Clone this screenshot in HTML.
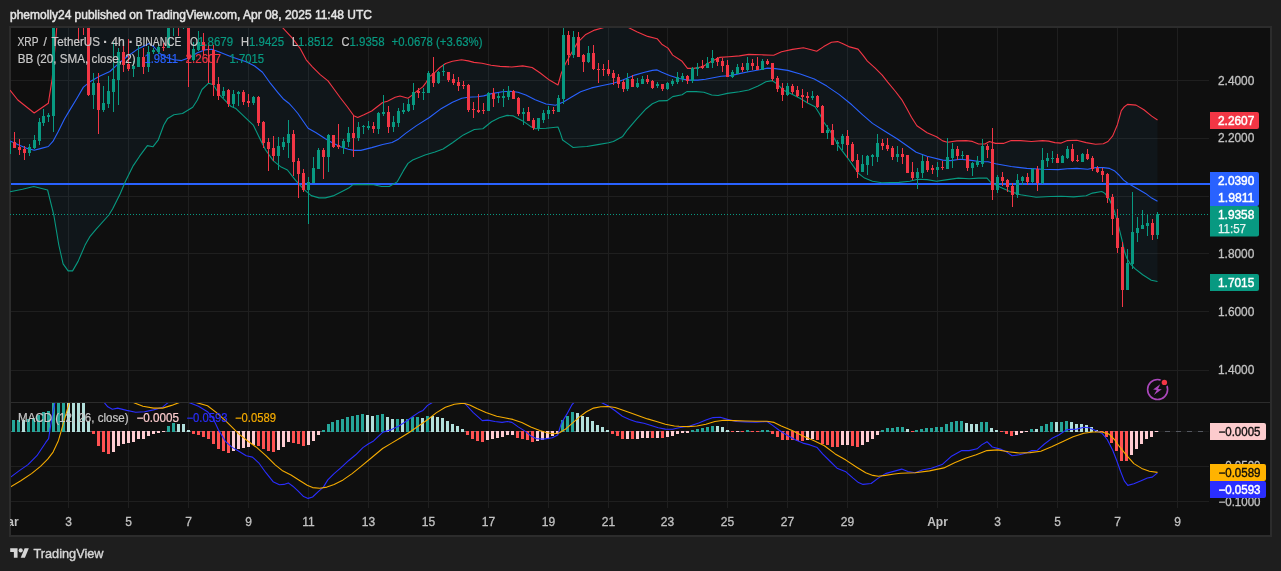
<!DOCTYPE html>
<html lang="en"><head><meta charset="utf-8"><title>XRP / TetherUS chart</title>
<style>html,body{margin:0;padding:0;background:#1e1e1e}body{width:1281px;height:571px;overflow:hidden}svg{display:block;will-change:transform}text{font-family:"Liberation Sans",sans-serif;font-size:12px}.ax{fill:#c2c2c2;stroke:#c2c2c2;stroke-width:.3px}.bx{stroke-width:.45px}.lg{stroke-width:.2px}.tb{fill:#c2c2c2;font-weight:bold}</style>
</head><body>
<svg width="1281" height="571" viewBox="0 0 1281 571">
<defs>
<clipPath id="cm"><rect x="10" y="28" width="1200" height="374"/></clipPath>
<clipPath id="cd"><rect x="11" y="403" width="1198.5" height="104.5"/></clipPath>
</defs>
<rect width="1281" height="571" fill="#1e1e1e"/>
<rect x="10" y="27" width="1261" height="509" fill="#0f0f0f" stroke="#2c2c2c" stroke-width="2"/>
<g stroke="#1f1f1f" stroke-width="1" shape-rendering="crispEdges">
<line x1="68.5" y1="28" x2="68.5" y2="507.5"/>
<line x1="128.5" y1="28" x2="128.5" y2="507.5"/>
<line x1="188.5" y1="28" x2="188.5" y2="507.5"/>
<line x1="248.5" y1="28" x2="248.5" y2="507.5"/>
<line x1="308.5" y1="28" x2="308.5" y2="507.5"/>
<line x1="368.5" y1="28" x2="368.5" y2="507.5"/>
<line x1="428.5" y1="28" x2="428.5" y2="507.5"/>
<line x1="488.5" y1="28" x2="488.5" y2="507.5"/>
<line x1="548.5" y1="28" x2="548.5" y2="507.5"/>
<line x1="608.5" y1="28" x2="608.5" y2="507.5"/>
<line x1="667.5" y1="28" x2="667.5" y2="507.5"/>
<line x1="727.5" y1="28" x2="727.5" y2="507.5"/>
<line x1="787.5" y1="28" x2="787.5" y2="507.5"/>
<line x1="847.5" y1="28" x2="847.5" y2="507.5"/>
<line x1="937.5" y1="28" x2="937.5" y2="507.5"/>
<line x1="997.5" y1="28" x2="997.5" y2="507.5"/>
<line x1="1057.5" y1="28" x2="1057.5" y2="507.5"/>
<line x1="1117.5" y1="28" x2="1117.5" y2="507.5"/>
<line x1="1177.5" y1="28" x2="1177.5" y2="507.5"/>
<line x1="11" y1="80.5" x2="1209" y2="80.5"/>
<line x1="11" y1="138.5" x2="1209" y2="138.5"/>
<line x1="11" y1="196.5" x2="1209" y2="196.5"/>
<line x1="11" y1="253.5" x2="1209" y2="253.5"/>
<line x1="11" y1="311.5" x2="1209" y2="311.5"/>
<line x1="11" y1="370.5" x2="1209" y2="370.5"/>
<line x1="11" y1="466.5" x2="1209" y2="466.5"/>
<line x1="11" y1="501.5" x2="1209" y2="501.5"/>
</g>
<g clip-path="url(#cm)">
<polygon points="10.0,90.2 17.8,100.0 34.2,113.0 48.3,103.3 52.2,78.5 56.8,27.0 60.0,-20.0 278.0,-20.0 282.0,27.0 292.1,37.9 299.9,48.1 306.2,59.8 312.4,66.8 320.2,74.6 328.0,80.9 334.3,89.5 340.5,98.0 347.5,107.0 353.8,115.8 357.7,117.5 363.9,114.8 371.7,111.0 382.7,102.5 387.4,101.2 395.2,97.3 400.0,96.0 408.0,98.3 412.5,94.9 417.1,90.9 422.8,86.9 426.2,82.3 429.6,76.6 435.3,72.1 439.9,67.5 445.6,63.5 452.4,61.3 461.5,59.8 468.3,60.9 474.0,62.4 482.0,63.2 491.1,65.3 500.0,66.4 511.8,67.0 522.7,65.9 532.1,67.5 539.9,72.8 549.4,80.1 558.0,85.0 561.1,73.8 565.8,62.9 571.2,53.5 577.5,42.6 585.3,34.8 594.6,30.1 605.6,27.0 616.0,24.0 627.4,27.0 636.8,31.7 647.7,36.4 657.1,38.7 661.8,44.2 668.0,48.1 672.7,55.1 682.1,61.3 687.5,68.4 693.8,68.4 702.4,66.8 710.2,62.1 719.5,57.4 728.9,56.7 739.4,55.9 748.7,54.4 761.2,54.8 773.7,55.3 781.5,51.7 792.5,49.4 803.4,47.8 811.2,49.7 816.7,51.2 823.7,46.6 831.5,42.3 837.7,41.6 842.4,43.4 848.7,46.6 858.0,49.1 862.7,54.8 867.4,61.1 875.2,68.1 882.2,75.1 887.7,82.2 895.5,91.5 901.7,99.6 906.8,108.6 911.5,117.2 916.9,125.8 927.1,132.8 936.5,136.7 942.7,140.9 947.4,142.2 956.8,140.9 966.1,140.6 972.4,141.4 978.6,144.0 984.9,144.0 989.4,141.5 995.6,143.4 1003.4,143.4 1011.2,140.6 1020.6,140.6 1031.5,141.5 1042.5,140.6 1048.7,141.1 1054.9,142.6 1061.2,143.1 1067.4,140.6 1076.8,140.3 1086.2,142.6 1095.5,144.2 1103.3,143.7 1108.0,141.5 1112.7,135.9 1117.4,124.7 1121.3,110.6 1124.4,106.7 1127.5,104.4 1136.1,105.1 1143.9,109.8 1151.7,116.1 1157.5,120.0 1157.5,281.5 1151.3,280.3 1142.7,274.8 1134.9,268.6 1130.3,263.9 1126.8,258.2 1124.4,251.2 1122.1,240.3 1119.0,227.8 1114.3,210.6 1109.6,199.7 1104.9,193.4 1101.8,191.5 1092.4,193.1 1086.2,195.8 1073.7,196.9 1061.2,196.2 1050.3,196.5 1036.2,197.3 1020.6,194.7 1011.2,191.9 1000.3,187.2 990.9,182.5 987.0,178.1 978.6,178.1 969.3,178.8 958.3,178.1 945.8,179.9 936.5,181.2 927.1,179.6 917.7,179.3 909.9,181.2 899.0,182.4 881.8,182.7 872.5,181.2 864.6,178.1 858.4,173.4 847.5,157.8 838.1,145.3 830.3,131.2 823.7,122.0 819.8,114.2 815.1,106.8 808.1,103.2 800.3,98.5 792.5,94.6 783.1,90.0 776.8,83.7 772.2,80.6 765.9,81.8 758.1,86.1 748.7,90.0 739.4,91.8 727.4,93.4 718.0,95.5 711.7,95.0 703.9,92.3 696.1,91.6 686.8,91.6 682.1,94.7 672.7,96.6 667.2,100.6 658.7,100.9 652.4,103.7 646.2,108.7 636.8,118.9 627.4,129.8 622.7,136.4 613.4,141.5 608.7,142.8 597.8,144.6 586.8,146.5 579.0,147.0 573.1,147.5 568.1,143.9 562.6,140.0 560.3,132.9 558.0,127.0 546.1,128.3 535.2,128.7 530.5,126.4 522.7,120.9 513.3,115.9 507.1,115.4 499.3,117.8 491.5,121.7 482.9,128.7 474.3,129.5 463.4,134.9 452.5,142.7 443.1,149.0 435.0,152.0 425.0,155.0 412.7,160.0 408.0,163.4 403.3,170.9 397.1,181.9 389.3,186.5 381.5,186.5 373.7,184.7 362.0,184.4 352.6,184.8 348.7,188.1 342.5,191.2 333.1,195.9 325.3,197.9 319.0,197.9 311.2,195.6 303.4,188.9 295.6,180.3 287.4,170.0 281.2,167.1 273.4,160.9 265.6,150.0 259.3,137.5 253.5,125.4 235.9,108.6 231.2,106.6 220.3,95.7 213.3,84.8 208.6,83.2 202.0,89.5 197.4,100.0 192.7,107.2 182.5,113.5 173.9,114.8 167.7,118.4 163.8,125.0 158.3,139.8 152.9,146.8 147.4,145.6 139.6,156.2 133.3,165.6 125.5,181.2 120.2,193.8 112.7,208.8 108.9,215.0 96.4,228.8 90.1,236.3 85.1,245.1 78.1,261.4 72.6,270.9 68.1,270.9 63.1,263.9 58.8,245.0 53.8,215.0 47.6,190.0 33.8,186.5 22.5,189.3 10.0,191.8" fill="#2196f3" fill-opacity="0.05"/>
<line x1="10" y1="214.5" x2="1209" y2="214.5" stroke="#089981" stroke-width="1" stroke-dasharray="1 2" shape-rendering="crispEdges"/>
<rect x="11" y="183" width="1199" height="2" fill="#2962ff"/>
<polyline points="10.0,191.8 22.5,189.3 33.8,186.5 47.6,190.0 53.8,215.0 58.8,245.0 63.1,263.9 68.1,270.9 72.6,270.9 78.1,261.4 85.1,245.1 90.1,236.3 96.4,228.8 108.9,215.0 112.7,208.8 120.2,193.8 125.5,181.2 133.3,165.6 139.6,156.2 147.4,145.6 152.9,146.8 158.3,139.8 163.8,125.0 167.7,118.4 173.9,114.8 182.5,113.5 192.7,107.2 197.4,100.0 202.0,89.5 208.6,83.2 213.3,84.8 220.3,95.7 231.2,106.6 235.9,108.6 253.5,125.4 259.3,137.5 265.6,150.0 273.4,160.9 281.2,167.1 287.4,170.0 295.6,180.3 303.4,188.9 311.2,195.6 319.0,197.9 325.3,197.9 333.1,195.9 342.5,191.2 348.7,188.1 352.6,184.8 362.0,184.4 373.7,184.7 381.5,186.5 389.3,186.5 397.1,181.9 403.3,170.9 408.0,163.4 412.7,160.0 425.0,155.0 435.0,152.0 443.1,149.0 452.5,142.7 463.4,134.9 474.3,129.5 482.9,128.7 491.5,121.7 499.3,117.8 507.1,115.4 513.3,115.9 522.7,120.9 530.5,126.4 535.2,128.7 546.1,128.3 558.0,127.0 560.3,132.9 562.6,140.0 568.1,143.9 573.1,147.5 579.0,147.0 586.8,146.5 597.8,144.6 608.7,142.8 613.4,141.5 622.7,136.4 627.4,129.8 636.8,118.9 646.2,108.7 652.4,103.7 658.7,100.9 667.2,100.6 672.7,96.6 682.1,94.7 686.8,91.6 696.1,91.6 703.9,92.3 711.7,95.0 718.0,95.5 727.4,93.4 739.4,91.8 748.7,90.0 758.1,86.1 765.9,81.8 772.2,80.6 776.8,83.7 783.1,90.0 792.5,94.6 800.3,98.5 808.1,103.2 815.1,106.8 819.8,114.2 823.7,122.0 830.3,131.2 838.1,145.3 847.5,157.8 858.4,173.4 864.6,178.1 872.5,181.2 881.8,182.7 899.0,182.4 909.9,181.2 917.7,179.3 927.1,179.6 936.5,181.2 945.8,179.9 958.3,178.1 969.3,178.8 978.6,178.1 987.0,178.1 990.9,182.5 1000.3,187.2 1011.2,191.9 1020.6,194.7 1036.2,197.3 1050.3,196.5 1061.2,196.2 1073.7,196.9 1086.2,195.8 1092.4,193.1 1101.8,191.5 1104.9,193.4 1109.6,199.7 1114.3,210.6 1119.0,227.8 1122.1,240.3 1124.4,251.2 1126.8,258.2 1130.3,263.9 1134.9,268.6 1142.7,274.8 1151.3,280.3 1157.5,281.5" fill="none" stroke="#089981" stroke-width="1.1" stroke-linejoin="round"/>
<polyline points="10.0,90.2 17.8,100.0 34.2,113.0 48.3,103.3 52.2,78.5 56.8,27.0 60.0,-20.0 278.0,-20.0 282.0,27.0 292.1,37.9 299.9,48.1 306.2,59.8 312.4,66.8 320.2,74.6 328.0,80.9 334.3,89.5 340.5,98.0 347.5,107.0 353.8,115.8 357.7,117.5 363.9,114.8 371.7,111.0 382.7,102.5 387.4,101.2 395.2,97.3 400.0,96.0 408.0,98.3 412.5,94.9 417.1,90.9 422.8,86.9 426.2,82.3 429.6,76.6 435.3,72.1 439.9,67.5 445.6,63.5 452.4,61.3 461.5,59.8 468.3,60.9 474.0,62.4 482.0,63.2 491.1,65.3 500.0,66.4 511.8,67.0 522.7,65.9 532.1,67.5 539.9,72.8 549.4,80.1 558.0,85.0 561.1,73.8 565.8,62.9 571.2,53.5 577.5,42.6 585.3,34.8 594.6,30.1 605.6,27.0 616.0,24.0 627.4,27.0 636.8,31.7 647.7,36.4 657.1,38.7 661.8,44.2 668.0,48.1 672.7,55.1 682.1,61.3 687.5,68.4 693.8,68.4 702.4,66.8 710.2,62.1 719.5,57.4 728.9,56.7 739.4,55.9 748.7,54.4 761.2,54.8 773.7,55.3 781.5,51.7 792.5,49.4 803.4,47.8 811.2,49.7 816.7,51.2 823.7,46.6 831.5,42.3 837.7,41.6 842.4,43.4 848.7,46.6 858.0,49.1 862.7,54.8 867.4,61.1 875.2,68.1 882.2,75.1 887.7,82.2 895.5,91.5 901.7,99.6 906.8,108.6 911.5,117.2 916.9,125.8 927.1,132.8 936.5,136.7 942.7,140.9 947.4,142.2 956.8,140.9 966.1,140.6 972.4,141.4 978.6,144.0 984.9,144.0 989.4,141.5 995.6,143.4 1003.4,143.4 1011.2,140.6 1020.6,140.6 1031.5,141.5 1042.5,140.6 1048.7,141.1 1054.9,142.6 1061.2,143.1 1067.4,140.6 1076.8,140.3 1086.2,142.6 1095.5,144.2 1103.3,143.7 1108.0,141.5 1112.7,135.9 1117.4,124.7 1121.3,110.6 1124.4,106.7 1127.5,104.4 1136.1,105.1 1143.9,109.8 1151.7,116.1 1157.5,120.0" fill="none" stroke="#f23645" stroke-width="1.1" stroke-linejoin="round"/>
<polyline points="10.0,140.9 19.4,145.3 27.2,148.4 34.2,150.3 41.2,148.4 48.3,146.5 52.9,141.4 58.4,131.2 64.6,118.7 69.3,110.9 77.1,98.0 83.4,87.1 91.2,80.9 100.0,76.0 109.9,71.5 119.3,62.9 128.0,56.0 138.0,48.9 149.0,43.4 154.0,47.0 159.9,53.5 166.1,57.4 173.9,59.8 181.7,60.6 189.5,57.4 197.4,52.8 206.2,49.6 211.7,49.3 218.7,51.7 231.2,56.7 246.8,62.1 254.6,66.0 262.5,72.3 270.3,83.2 278.1,92.8 283.1,98.7 288.8,103.2 293.7,108.5 297.9,113.5 301.5,118.7 308.1,128.3 316.1,132.8 325.0,138.5 332.7,142.9 340.5,146.8 348.3,149.2 353.8,150.4 360.8,150.4 371.7,147.6 382.7,144.5 392.0,142.5 397.8,139.6 405.6,133.4 416.5,125.6 429.0,117.8 441.5,108.4 452.5,102.2 461.8,98.3 468.1,97.2 477.4,96.7 483.7,95.9 491.5,93.6 502.4,91.7 510.2,91.2 518.0,92.3 525.8,95.1 535.2,99.8 546.1,104.0 555.6,105.3 563.4,102.0 571.2,97.3 580.6,91.8 591.5,87.9 602.5,85.5 613.4,83.2 622.7,80.1 633.7,75.4 644.6,72.3 652.4,70.4 657.1,69.9 661.8,72.3 669.6,75.4 679.0,78.5 688.3,80.1 697.7,80.1 705.5,79.3 713.3,77.7 721.1,76.2 730.5,75.6 739.4,73.6 748.7,71.7 759.7,69.7 767.5,68.1 775.3,68.6 787.8,70.4 800.3,74.0 814.3,79.0 826.8,86.1 839.3,94.6 851.8,104.8 862.7,114.9 872.5,123.4 884.9,131.2 897.4,139.0 908.4,146.8 916.2,152.3 927.1,156.2 942.7,160.1 950.5,160.6 959.9,159.3 969.3,160.1 981.7,161.7 988.0,161.7 995.6,163.7 1011.2,166.5 1026.8,168.4 1042.5,169.2 1058.1,169.6 1067.4,168.7 1076.8,168.4 1087.7,169.2 1095.5,167.6 1103.3,167.6 1109.6,168.4 1114.3,170.7 1119.0,175.0 1123.6,180.1 1127.5,183.0 1136.1,188.0 1145.5,193.4 1151.7,198.1 1157.5,201.2" fill="none" stroke="#2962ff" stroke-width="1.1" stroke-linejoin="round"/>
<g shape-rendering="crispEdges">
<rect x="9" y="138" width="1" height="18" fill="#089981"/>
<rect x="8" y="142" width="3" height="12" fill="#089981"/>
<rect x="14" y="132" width="1" height="16" fill="#f23645"/>
<rect x="13" y="142" width="3" height="6" fill="#f23645"/>
<rect x="19" y="139" width="1" height="16" fill="#f23645"/>
<rect x="18" y="147" width="3" height="3" fill="#f23645"/>
<rect x="24" y="146" width="1" height="14" fill="#f23645"/>
<rect x="23" y="149" width="3" height="4" fill="#f23645"/>
<rect x="29" y="144" width="1" height="12" fill="#089981"/>
<rect x="28" y="147" width="3" height="6" fill="#089981"/>
<rect x="34" y="135" width="1" height="14" fill="#089981"/>
<rect x="33" y="140" width="3" height="8" fill="#089981"/>
<rect x="39" y="118" width="1" height="27" fill="#089981"/>
<rect x="38" y="122" width="3" height="19" fill="#089981"/>
<rect x="43" y="109" width="1" height="17" fill="#089981"/>
<rect x="42" y="116" width="3" height="7" fill="#089981"/>
<rect x="48" y="113" width="1" height="9" fill="#089981"/>
<rect x="47" y="115" width="3" height="2" fill="#089981"/>
<rect x="53" y="10" width="1" height="122" fill="#089981"/>
<rect x="52" y="10" width="3" height="106" fill="#089981"/>
<rect x="78" y="10" width="1" height="32" fill="#f23645"/>
<rect x="77" y="10" width="3" height="2" fill="#f23645"/>
<rect x="83" y="10" width="1" height="25" fill="#f23645"/>
<rect x="82" y="10" width="3" height="2" fill="#f23645"/>
<rect x="88" y="10" width="1" height="86" fill="#f23645"/>
<rect x="87" y="10" width="3" height="85" fill="#f23645"/>
<rect x="93" y="73" width="1" height="36" fill="#089981"/>
<rect x="92" y="83" width="3" height="12" fill="#089981"/>
<rect x="98" y="73" width="1" height="61" fill="#f23645"/>
<rect x="97" y="83" width="3" height="27" fill="#f23645"/>
<rect x="103" y="86" width="1" height="26" fill="#089981"/>
<rect x="102" y="103" width="3" height="7" fill="#089981"/>
<rect x="108" y="76" width="1" height="32" fill="#089981"/>
<rect x="107" y="91" width="3" height="13" fill="#089981"/>
<rect x="113" y="42" width="1" height="70" fill="#089981"/>
<rect x="112" y="79" width="3" height="13" fill="#089981"/>
<rect x="118" y="48" width="1" height="57" fill="#089981"/>
<rect x="117" y="52" width="3" height="28" fill="#089981"/>
<rect x="123" y="46" width="1" height="26" fill="#f23645"/>
<rect x="122" y="52" width="3" height="13" fill="#f23645"/>
<rect x="128" y="39" width="1" height="32" fill="#f23645"/>
<rect x="127" y="64" width="3" height="5" fill="#f23645"/>
<rect x="133" y="61" width="1" height="16" fill="#089981"/>
<rect x="132" y="66" width="3" height="3" fill="#089981"/>
<rect x="138" y="46" width="1" height="21" fill="#089981"/>
<rect x="137" y="57" width="3" height="10" fill="#089981"/>
<rect x="143" y="48" width="1" height="26" fill="#f23645"/>
<rect x="142" y="57" width="3" height="10" fill="#f23645"/>
<rect x="148" y="46" width="1" height="26" fill="#089981"/>
<rect x="147" y="52" width="3" height="15" fill="#089981"/>
<rect x="153" y="48" width="1" height="6" fill="#089981"/>
<rect x="152" y="50" width="3" height="2" fill="#089981"/>
<rect x="158" y="43" width="1" height="11" fill="#089981"/>
<rect x="157" y="47" width="3" height="5" fill="#089981"/>
<rect x="163" y="43" width="1" height="8" fill="#f23645"/>
<rect x="162" y="47" width="3" height="1" fill="#f23645"/>
<rect x="168" y="10" width="1" height="38" fill="#089981"/>
<rect x="167" y="10" width="3" height="38" fill="#089981"/>
<rect x="173" y="10" width="1" height="26" fill="#089981"/>
<rect x="172" y="10" width="3" height="2" fill="#089981"/>
<rect x="178" y="10" width="1" height="26" fill="#f23645"/>
<rect x="177" y="10" width="3" height="2" fill="#f23645"/>
<rect x="183" y="10" width="1" height="19" fill="#089981"/>
<rect x="182" y="10" width="3" height="2" fill="#089981"/>
<rect x="188" y="10" width="1" height="77" fill="#f23645"/>
<rect x="187" y="10" width="3" height="49" fill="#f23645"/>
<rect x="193" y="42" width="1" height="19" fill="#089981"/>
<rect x="192" y="49" width="3" height="11" fill="#089981"/>
<rect x="198" y="31" width="1" height="20" fill="#089981"/>
<rect x="197" y="42" width="3" height="8" fill="#089981"/>
<rect x="203" y="33" width="1" height="22" fill="#f23645"/>
<rect x="202" y="42" width="3" height="8" fill="#f23645"/>
<rect x="208" y="45" width="1" height="38" fill="#f23645"/>
<rect x="207" y="49" width="3" height="1" fill="#f23645"/>
<rect x="213" y="45" width="1" height="51" fill="#f23645"/>
<rect x="212" y="50" width="3" height="35" fill="#f23645"/>
<rect x="218" y="77" width="1" height="23" fill="#f23645"/>
<rect x="217" y="84" width="3" height="12" fill="#f23645"/>
<rect x="223" y="87" width="1" height="11" fill="#089981"/>
<rect x="222" y="91" width="3" height="5" fill="#089981"/>
<rect x="228" y="89" width="1" height="18" fill="#f23645"/>
<rect x="227" y="90" width="3" height="14" fill="#f23645"/>
<rect x="233" y="90" width="1" height="17" fill="#089981"/>
<rect x="232" y="94" width="3" height="10" fill="#089981"/>
<rect x="238" y="91" width="1" height="15" fill="#089981"/>
<rect x="237" y="92" width="3" height="2" fill="#089981"/>
<rect x="243" y="90" width="1" height="15" fill="#f23645"/>
<rect x="242" y="92" width="3" height="10" fill="#f23645"/>
<rect x="248" y="94" width="1" height="13" fill="#f23645"/>
<rect x="247" y="101" width="3" height="2" fill="#f23645"/>
<rect x="253" y="96" width="1" height="9" fill="#089981"/>
<rect x="252" y="97" width="3" height="6" fill="#089981"/>
<rect x="258" y="96" width="1" height="30" fill="#f23645"/>
<rect x="257" y="97" width="3" height="26" fill="#f23645"/>
<rect x="263" y="121" width="1" height="27" fill="#f23645"/>
<rect x="262" y="122" width="3" height="21" fill="#f23645"/>
<rect x="268" y="138" width="1" height="33" fill="#f23645"/>
<rect x="267" y="142" width="3" height="7" fill="#f23645"/>
<rect x="273" y="136" width="1" height="25" fill="#f23645"/>
<rect x="272" y="148" width="3" height="8" fill="#f23645"/>
<rect x="278" y="137" width="1" height="33" fill="#089981"/>
<rect x="277" y="146" width="3" height="10" fill="#089981"/>
<rect x="283" y="137" width="1" height="13" fill="#089981"/>
<rect x="282" y="142" width="3" height="5" fill="#089981"/>
<rect x="288" y="120" width="1" height="38" fill="#089981"/>
<rect x="287" y="134" width="3" height="9" fill="#089981"/>
<rect x="293" y="130" width="1" height="46" fill="#f23645"/>
<rect x="292" y="134" width="3" height="28" fill="#f23645"/>
<rect x="298" y="158" width="1" height="40" fill="#f23645"/>
<rect x="297" y="161" width="3" height="13" fill="#f23645"/>
<rect x="303" y="169" width="1" height="23" fill="#f23645"/>
<rect x="302" y="173" width="3" height="17" fill="#f23645"/>
<rect x="308" y="177" width="1" height="47" fill="#089981"/>
<rect x="307" y="182" width="3" height="8" fill="#089981"/>
<rect x="313" y="157" width="1" height="26" fill="#089981"/>
<rect x="312" y="168" width="3" height="15" fill="#089981"/>
<rect x="318" y="148" width="1" height="21" fill="#089981"/>
<rect x="317" y="150" width="3" height="19" fill="#089981"/>
<rect x="323" y="148" width="1" height="31" fill="#f23645"/>
<rect x="322" y="150" width="3" height="7" fill="#f23645"/>
<rect x="328" y="134" width="1" height="38" fill="#089981"/>
<rect x="327" y="135" width="3" height="22" fill="#089981"/>
<rect x="333" y="135" width="1" height="13" fill="#f23645"/>
<rect x="332" y="135" width="3" height="12" fill="#f23645"/>
<rect x="338" y="124" width="1" height="25" fill="#f23645"/>
<rect x="337" y="145" width="3" height="2" fill="#f23645"/>
<rect x="343" y="139" width="1" height="15" fill="#089981"/>
<rect x="342" y="141" width="3" height="7" fill="#089981"/>
<rect x="348" y="127" width="1" height="20" fill="#089981"/>
<rect x="347" y="133" width="3" height="9" fill="#089981"/>
<rect x="353" y="115" width="1" height="42" fill="#f23645"/>
<rect x="352" y="133" width="3" height="5" fill="#f23645"/>
<rect x="358" y="122" width="1" height="19" fill="#089981"/>
<rect x="357" y="127" width="3" height="11" fill="#089981"/>
<rect x="363" y="125" width="1" height="9" fill="#089981"/>
<rect x="362" y="126" width="3" height="1" fill="#089981"/>
<rect x="368" y="121" width="1" height="9" fill="#089981"/>
<rect x="367" y="126" width="3" height="2" fill="#089981"/>
<rect x="373" y="122" width="1" height="11" fill="#f23645"/>
<rect x="372" y="126" width="3" height="3" fill="#f23645"/>
<rect x="378" y="112" width="1" height="22" fill="#089981"/>
<rect x="377" y="113" width="3" height="16" fill="#089981"/>
<rect x="383" y="95" width="1" height="21" fill="#089981"/>
<rect x="382" y="112" width="3" height="2" fill="#089981"/>
<rect x="388" y="106" width="1" height="27" fill="#f23645"/>
<rect x="387" y="112" width="3" height="15" fill="#f23645"/>
<rect x="393" y="116" width="1" height="16" fill="#089981"/>
<rect x="392" y="122" width="3" height="5" fill="#089981"/>
<rect x="398" y="108" width="1" height="19" fill="#089981"/>
<rect x="397" y="111" width="3" height="12" fill="#089981"/>
<rect x="403" y="103" width="1" height="11" fill="#089981"/>
<rect x="402" y="110" width="3" height="2" fill="#089981"/>
<rect x="408" y="99" width="1" height="13" fill="#089981"/>
<rect x="407" y="104" width="3" height="7" fill="#089981"/>
<rect x="413" y="83" width="1" height="27" fill="#089981"/>
<rect x="412" y="92" width="3" height="13" fill="#089981"/>
<rect x="418" y="88" width="1" height="10" fill="#f23645"/>
<rect x="417" y="91" width="3" height="2" fill="#f23645"/>
<rect x="423" y="88" width="1" height="12" fill="#089981"/>
<rect x="422" y="92" width="3" height="1" fill="#089981"/>
<rect x="428" y="71" width="1" height="22" fill="#089981"/>
<rect x="427" y="73" width="3" height="20" fill="#089981"/>
<rect x="433" y="57" width="1" height="30" fill="#f23645"/>
<rect x="432" y="73" width="3" height="10" fill="#f23645"/>
<rect x="438" y="71" width="1" height="13" fill="#089981"/>
<rect x="437" y="72" width="3" height="11" fill="#089981"/>
<rect x="443" y="64" width="1" height="12" fill="#089981"/>
<rect x="442" y="71" width="3" height="1" fill="#089981"/>
<rect x="448" y="72" width="1" height="10" fill="#f23645"/>
<rect x="447" y="72" width="3" height="8" fill="#f23645"/>
<rect x="453" y="74" width="1" height="11" fill="#f23645"/>
<rect x="452" y="79" width="3" height="4" fill="#f23645"/>
<rect x="458" y="77" width="1" height="14" fill="#f23645"/>
<rect x="457" y="82" width="3" height="4" fill="#f23645"/>
<rect x="463" y="81" width="1" height="8" fill="#f23645"/>
<rect x="462" y="85" width="3" height="1" fill="#f23645"/>
<rect x="468" y="84" width="1" height="28" fill="#f23645"/>
<rect x="467" y="85" width="3" height="25" fill="#f23645"/>
<rect x="473" y="102" width="1" height="16" fill="#f23645"/>
<rect x="472" y="109" width="3" height="1" fill="#f23645"/>
<rect x="478" y="94" width="1" height="19" fill="#f23645"/>
<rect x="477" y="110" width="3" height="2" fill="#f23645"/>
<rect x="483" y="103" width="1" height="11" fill="#f23645"/>
<rect x="482" y="110" width="3" height="1" fill="#f23645"/>
<rect x="488" y="92" width="1" height="19" fill="#089981"/>
<rect x="487" y="93" width="3" height="18" fill="#089981"/>
<rect x="493" y="88" width="1" height="19" fill="#f23645"/>
<rect x="492" y="93" width="3" height="6" fill="#f23645"/>
<rect x="498" y="93" width="1" height="10" fill="#089981"/>
<rect x="497" y="96" width="3" height="2" fill="#089981"/>
<rect x="503" y="89" width="1" height="18" fill="#089981"/>
<rect x="502" y="96" width="3" height="2" fill="#089981"/>
<rect x="508" y="86" width="1" height="14" fill="#089981"/>
<rect x="507" y="91" width="3" height="6" fill="#089981"/>
<rect x="513" y="90" width="1" height="9" fill="#f23645"/>
<rect x="512" y="91" width="3" height="8" fill="#f23645"/>
<rect x="518" y="97" width="1" height="19" fill="#f23645"/>
<rect x="517" y="98" width="3" height="16" fill="#f23645"/>
<rect x="523" y="108" width="1" height="17" fill="#089981"/>
<rect x="522" y="112" width="3" height="2" fill="#089981"/>
<rect x="528" y="107" width="1" height="14" fill="#f23645"/>
<rect x="527" y="112" width="3" height="9" fill="#f23645"/>
<rect x="533" y="118" width="1" height="12" fill="#f23645"/>
<rect x="532" y="120" width="3" height="8" fill="#f23645"/>
<rect x="538" y="118" width="1" height="13" fill="#089981"/>
<rect x="537" y="118" width="3" height="10" fill="#089981"/>
<rect x="543" y="110" width="1" height="13" fill="#089981"/>
<rect x="542" y="113" width="3" height="7" fill="#089981"/>
<rect x="548" y="106" width="1" height="13" fill="#089981"/>
<rect x="547" y="110" width="3" height="4" fill="#089981"/>
<rect x="553" y="107" width="1" height="7" fill="#f23645"/>
<rect x="552" y="110" width="3" height="1" fill="#f23645"/>
<rect x="558" y="95" width="1" height="17" fill="#089981"/>
<rect x="557" y="98" width="3" height="14" fill="#089981"/>
<rect x="563" y="10" width="1" height="94" fill="#089981"/>
<rect x="562" y="35" width="3" height="64" fill="#089981"/>
<rect x="568" y="31" width="1" height="34" fill="#f23645"/>
<rect x="567" y="35" width="3" height="20" fill="#f23645"/>
<rect x="573" y="31" width="1" height="27" fill="#089981"/>
<rect x="572" y="37" width="3" height="18" fill="#089981"/>
<rect x="578" y="32" width="1" height="25" fill="#f23645"/>
<rect x="577" y="37" width="3" height="20" fill="#f23645"/>
<rect x="583" y="54" width="1" height="18" fill="#f23645"/>
<rect x="582" y="55" width="3" height="7" fill="#f23645"/>
<rect x="588" y="46" width="1" height="17" fill="#089981"/>
<rect x="587" y="53" width="3" height="9" fill="#089981"/>
<rect x="593" y="45" width="1" height="25" fill="#f23645"/>
<rect x="592" y="53" width="3" height="16" fill="#f23645"/>
<rect x="598" y="63" width="1" height="20" fill="#f23645"/>
<rect x="597" y="69" width="3" height="1" fill="#f23645"/>
<rect x="603" y="64" width="1" height="12" fill="#f23645"/>
<rect x="602" y="69" width="3" height="1" fill="#f23645"/>
<rect x="608" y="60" width="1" height="16" fill="#f23645"/>
<rect x="607" y="69" width="3" height="5" fill="#f23645"/>
<rect x="613" y="70" width="1" height="15" fill="#f23645"/>
<rect x="612" y="73" width="3" height="5" fill="#f23645"/>
<rect x="618" y="74" width="1" height="14" fill="#f23645"/>
<rect x="617" y="77" width="3" height="7" fill="#f23645"/>
<rect x="623" y="80" width="1" height="12" fill="#f23645"/>
<rect x="622" y="82" width="3" height="7" fill="#f23645"/>
<rect x="627" y="73" width="1" height="18" fill="#089981"/>
<rect x="626" y="79" width="3" height="10" fill="#089981"/>
<rect x="632" y="75" width="1" height="12" fill="#f23645"/>
<rect x="631" y="79" width="3" height="8" fill="#f23645"/>
<rect x="637" y="78" width="1" height="10" fill="#089981"/>
<rect x="636" y="83" width="3" height="4" fill="#089981"/>
<rect x="642" y="76" width="1" height="8" fill="#089981"/>
<rect x="641" y="79" width="3" height="5" fill="#089981"/>
<rect x="647" y="75" width="1" height="9" fill="#f23645"/>
<rect x="646" y="79" width="3" height="3" fill="#f23645"/>
<rect x="652" y="80" width="1" height="9" fill="#f23645"/>
<rect x="651" y="81" width="3" height="7" fill="#f23645"/>
<rect x="657" y="82" width="1" height="6" fill="#089981"/>
<rect x="656" y="84" width="3" height="2" fill="#089981"/>
<rect x="662" y="84" width="1" height="7" fill="#f23645"/>
<rect x="661" y="84" width="3" height="5" fill="#f23645"/>
<rect x="667" y="82" width="1" height="8" fill="#089981"/>
<rect x="666" y="83" width="3" height="6" fill="#089981"/>
<rect x="672" y="79" width="1" height="7" fill="#089981"/>
<rect x="671" y="81" width="3" height="3" fill="#089981"/>
<rect x="677" y="72" width="1" height="12" fill="#089981"/>
<rect x="676" y="77" width="3" height="5" fill="#089981"/>
<rect x="682" y="73" width="1" height="9" fill="#089981"/>
<rect x="681" y="76" width="3" height="3" fill="#089981"/>
<rect x="687" y="75" width="1" height="9" fill="#f23645"/>
<rect x="686" y="76" width="3" height="5" fill="#f23645"/>
<rect x="692" y="67" width="1" height="16" fill="#089981"/>
<rect x="691" y="68" width="3" height="13" fill="#089981"/>
<rect x="697" y="63" width="1" height="13" fill="#089981"/>
<rect x="696" y="67" width="3" height="2" fill="#089981"/>
<rect x="702" y="60" width="1" height="9" fill="#f23645"/>
<rect x="701" y="66" width="3" height="2" fill="#f23645"/>
<rect x="707" y="57" width="1" height="11" fill="#089981"/>
<rect x="706" y="63" width="3" height="5" fill="#089981"/>
<rect x="712" y="50" width="1" height="18" fill="#089981"/>
<rect x="711" y="58" width="3" height="5" fill="#089981"/>
<rect x="717" y="57" width="1" height="9" fill="#f23645"/>
<rect x="716" y="58" width="3" height="4" fill="#f23645"/>
<rect x="722" y="58" width="1" height="14" fill="#f23645"/>
<rect x="721" y="61" width="3" height="5" fill="#f23645"/>
<rect x="727" y="60" width="1" height="17" fill="#f23645"/>
<rect x="726" y="65" width="3" height="12" fill="#f23645"/>
<rect x="732" y="70" width="1" height="8" fill="#089981"/>
<rect x="731" y="72" width="3" height="5" fill="#089981"/>
<rect x="737" y="64" width="1" height="10" fill="#089981"/>
<rect x="736" y="67" width="3" height="7" fill="#089981"/>
<rect x="742" y="63" width="1" height="9" fill="#f23645"/>
<rect x="741" y="67" width="3" height="3" fill="#f23645"/>
<rect x="747" y="57" width="1" height="15" fill="#089981"/>
<rect x="746" y="63" width="3" height="7" fill="#089981"/>
<rect x="752" y="59" width="1" height="11" fill="#f23645"/>
<rect x="751" y="63" width="3" height="3" fill="#f23645"/>
<rect x="757" y="57" width="1" height="13" fill="#f23645"/>
<rect x="756" y="66" width="3" height="4" fill="#f23645"/>
<rect x="762" y="59" width="1" height="11" fill="#089981"/>
<rect x="761" y="61" width="3" height="9" fill="#089981"/>
<rect x="767" y="59" width="1" height="6" fill="#f23645"/>
<rect x="766" y="61" width="3" height="3" fill="#f23645"/>
<rect x="772" y="63" width="1" height="18" fill="#f23645"/>
<rect x="771" y="63" width="3" height="16" fill="#f23645"/>
<rect x="777" y="76" width="1" height="16" fill="#f23645"/>
<rect x="776" y="78" width="3" height="11" fill="#f23645"/>
<rect x="782" y="83" width="1" height="18" fill="#f23645"/>
<rect x="781" y="88" width="3" height="7" fill="#f23645"/>
<rect x="787" y="83" width="1" height="13" fill="#089981"/>
<rect x="786" y="86" width="3" height="9" fill="#089981"/>
<rect x="792" y="84" width="1" height="10" fill="#f23645"/>
<rect x="791" y="86" width="3" height="6" fill="#f23645"/>
<rect x="797" y="86" width="1" height="11" fill="#f23645"/>
<rect x="796" y="90" width="3" height="6" fill="#f23645"/>
<rect x="802" y="89" width="1" height="19" fill="#f23645"/>
<rect x="801" y="95" width="3" height="2" fill="#f23645"/>
<rect x="807" y="92" width="1" height="11" fill="#f23645"/>
<rect x="806" y="96" width="3" height="2" fill="#f23645"/>
<rect x="812" y="91" width="1" height="9" fill="#089981"/>
<rect x="811" y="96" width="3" height="2" fill="#089981"/>
<rect x="817" y="95" width="1" height="13" fill="#f23645"/>
<rect x="816" y="96" width="3" height="11" fill="#f23645"/>
<rect x="822" y="105" width="1" height="28" fill="#f23645"/>
<rect x="821" y="106" width="3" height="27" fill="#f23645"/>
<rect x="827" y="125" width="1" height="14" fill="#089981"/>
<rect x="826" y="130" width="3" height="3" fill="#089981"/>
<rect x="832" y="124" width="1" height="21" fill="#f23645"/>
<rect x="831" y="130" width="3" height="15" fill="#f23645"/>
<rect x="837" y="140" width="1" height="11" fill="#089981"/>
<rect x="836" y="142" width="3" height="2" fill="#089981"/>
<rect x="842" y="134" width="1" height="16" fill="#089981"/>
<rect x="841" y="136" width="3" height="8" fill="#089981"/>
<rect x="847" y="130" width="1" height="28" fill="#f23645"/>
<rect x="846" y="136" width="3" height="9" fill="#f23645"/>
<rect x="852" y="142" width="1" height="20" fill="#f23645"/>
<rect x="851" y="144" width="3" height="17" fill="#f23645"/>
<rect x="857" y="154" width="1" height="24" fill="#f23645"/>
<rect x="856" y="160" width="3" height="12" fill="#f23645"/>
<rect x="862" y="155" width="1" height="17" fill="#089981"/>
<rect x="861" y="164" width="3" height="8" fill="#089981"/>
<rect x="867" y="155" width="1" height="20" fill="#089981"/>
<rect x="866" y="156" width="3" height="9" fill="#089981"/>
<rect x="872" y="154" width="1" height="12" fill="#089981"/>
<rect x="871" y="155" width="3" height="2" fill="#089981"/>
<rect x="877" y="134" width="1" height="28" fill="#089981"/>
<rect x="876" y="143" width="3" height="14" fill="#089981"/>
<rect x="882" y="139" width="1" height="11" fill="#f23645"/>
<rect x="881" y="143" width="3" height="3" fill="#f23645"/>
<rect x="887" y="138" width="1" height="13" fill="#f23645"/>
<rect x="886" y="145" width="3" height="4" fill="#f23645"/>
<rect x="892" y="146" width="1" height="14" fill="#f23645"/>
<rect x="891" y="148" width="3" height="9" fill="#f23645"/>
<rect x="897" y="146" width="1" height="16" fill="#089981"/>
<rect x="896" y="154" width="3" height="3" fill="#089981"/>
<rect x="902" y="148" width="1" height="16" fill="#f23645"/>
<rect x="901" y="154" width="3" height="3" fill="#f23645"/>
<rect x="907" y="155" width="1" height="18" fill="#f23645"/>
<rect x="906" y="155" width="3" height="18" fill="#f23645"/>
<rect x="912" y="162" width="1" height="18" fill="#f23645"/>
<rect x="911" y="172" width="3" height="6" fill="#f23645"/>
<rect x="917" y="168" width="1" height="21" fill="#089981"/>
<rect x="916" y="172" width="3" height="6" fill="#089981"/>
<rect x="922" y="155" width="1" height="23" fill="#089981"/>
<rect x="921" y="161" width="3" height="12" fill="#089981"/>
<rect x="927" y="157" width="1" height="15" fill="#f23645"/>
<rect x="926" y="161" width="3" height="9" fill="#f23645"/>
<rect x="932" y="165" width="1" height="9" fill="#f23645"/>
<rect x="931" y="168" width="3" height="2" fill="#f23645"/>
<rect x="937" y="162" width="1" height="15" fill="#089981"/>
<rect x="936" y="167" width="3" height="3" fill="#089981"/>
<rect x="942" y="161" width="1" height="9" fill="#f23645"/>
<rect x="941" y="167" width="3" height="1" fill="#f23645"/>
<rect x="947" y="138" width="1" height="31" fill="#089981"/>
<rect x="946" y="157" width="3" height="12" fill="#089981"/>
<rect x="952" y="143" width="1" height="25" fill="#089981"/>
<rect x="951" y="149" width="3" height="9" fill="#089981"/>
<rect x="957" y="146" width="1" height="14" fill="#f23645"/>
<rect x="956" y="149" width="3" height="7" fill="#f23645"/>
<rect x="962" y="151" width="1" height="8" fill="#089981"/>
<rect x="961" y="155" width="3" height="1" fill="#089981"/>
<rect x="967" y="155" width="1" height="16" fill="#f23645"/>
<rect x="966" y="155" width="3" height="13" fill="#f23645"/>
<rect x="972" y="162" width="1" height="14" fill="#089981"/>
<rect x="971" y="163" width="3" height="5" fill="#089981"/>
<rect x="977" y="156" width="1" height="11" fill="#089981"/>
<rect x="976" y="161" width="3" height="4" fill="#089981"/>
<rect x="982" y="139" width="1" height="28" fill="#089981"/>
<rect x="981" y="146" width="3" height="18" fill="#089981"/>
<rect x="987" y="144" width="1" height="14" fill="#f23645"/>
<rect x="986" y="146" width="3" height="4" fill="#f23645"/>
<rect x="992" y="128" width="1" height="72" fill="#f23645"/>
<rect x="991" y="149" width="3" height="41" fill="#f23645"/>
<rect x="997" y="175" width="1" height="18" fill="#089981"/>
<rect x="996" y="177" width="3" height="13" fill="#089981"/>
<rect x="1002" y="172" width="1" height="14" fill="#f23645"/>
<rect x="1001" y="177" width="3" height="4" fill="#f23645"/>
<rect x="1007" y="179" width="1" height="13" fill="#f23645"/>
<rect x="1006" y="180" width="3" height="7" fill="#f23645"/>
<rect x="1012" y="183" width="1" height="24" fill="#f23645"/>
<rect x="1011" y="186" width="3" height="9" fill="#f23645"/>
<rect x="1017" y="174" width="1" height="24" fill="#089981"/>
<rect x="1016" y="180" width="3" height="15" fill="#089981"/>
<rect x="1022" y="176" width="1" height="9" fill="#089981"/>
<rect x="1021" y="177" width="3" height="4" fill="#089981"/>
<rect x="1027" y="173" width="1" height="12" fill="#f23645"/>
<rect x="1026" y="177" width="3" height="5" fill="#f23645"/>
<rect x="1032" y="168" width="1" height="15" fill="#089981"/>
<rect x="1031" y="169" width="3" height="13" fill="#089981"/>
<rect x="1037" y="166" width="1" height="25" fill="#f23645"/>
<rect x="1036" y="169" width="3" height="14" fill="#f23645"/>
<rect x="1042" y="148" width="1" height="36" fill="#089981"/>
<rect x="1041" y="160" width="3" height="23" fill="#089981"/>
<rect x="1047" y="153" width="1" height="14" fill="#089981"/>
<rect x="1046" y="158" width="3" height="3" fill="#089981"/>
<rect x="1052" y="151" width="1" height="12" fill="#089981"/>
<rect x="1051" y="158" width="3" height="1" fill="#089981"/>
<rect x="1057" y="154" width="1" height="9" fill="#f23645"/>
<rect x="1056" y="158" width="3" height="5" fill="#f23645"/>
<rect x="1062" y="155" width="1" height="8" fill="#089981"/>
<rect x="1061" y="156" width="3" height="7" fill="#089981"/>
<rect x="1067" y="146" width="1" height="13" fill="#089981"/>
<rect x="1066" y="149" width="3" height="9" fill="#089981"/>
<rect x="1072" y="144" width="1" height="18" fill="#f23645"/>
<rect x="1071" y="149" width="3" height="12" fill="#f23645"/>
<rect x="1077" y="155" width="1" height="7" fill="#f23645"/>
<rect x="1076" y="160" width="3" height="1" fill="#f23645"/>
<rect x="1082" y="153" width="1" height="9" fill="#089981"/>
<rect x="1081" y="154" width="3" height="8" fill="#089981"/>
<rect x="1087" y="149" width="1" height="11" fill="#f23645"/>
<rect x="1086" y="154" width="3" height="5" fill="#f23645"/>
<rect x="1092" y="156" width="1" height="15" fill="#f23645"/>
<rect x="1091" y="158" width="3" height="11" fill="#f23645"/>
<rect x="1097" y="166" width="1" height="7" fill="#f23645"/>
<rect x="1096" y="168" width="3" height="4" fill="#f23645"/>
<rect x="1102" y="168" width="1" height="14" fill="#f23645"/>
<rect x="1101" y="171" width="3" height="4" fill="#f23645"/>
<rect x="1107" y="173" width="1" height="30" fill="#f23645"/>
<rect x="1106" y="174" width="3" height="24" fill="#f23645"/>
<rect x="1112" y="194" width="1" height="41" fill="#f23645"/>
<rect x="1111" y="197" width="3" height="22" fill="#f23645"/>
<rect x="1117" y="209" width="1" height="44" fill="#f23645"/>
<rect x="1116" y="218" width="3" height="30" fill="#f23645"/>
<rect x="1122" y="242" width="1" height="65" fill="#f23645"/>
<rect x="1121" y="247" width="3" height="43" fill="#f23645"/>
<rect x="1127" y="249" width="1" height="41" fill="#089981"/>
<rect x="1126" y="263" width="3" height="27" fill="#089981"/>
<rect x="1132" y="192" width="1" height="77" fill="#089981"/>
<rect x="1131" y="232" width="3" height="32" fill="#089981"/>
<rect x="1137" y="217" width="1" height="25" fill="#089981"/>
<rect x="1136" y="228" width="3" height="5" fill="#089981"/>
<rect x="1142" y="210" width="1" height="19" fill="#089981"/>
<rect x="1141" y="225" width="3" height="4" fill="#089981"/>
<rect x="1147" y="214" width="1" height="22" fill="#089981"/>
<rect x="1146" y="223" width="3" height="3" fill="#089981"/>
<rect x="1152" y="219" width="1" height="21" fill="#f23645"/>
<rect x="1151" y="223" width="3" height="12" fill="#f23645"/>
<rect x="1157" y="212" width="1" height="27" fill="#089981"/>
<rect x="1156" y="214" width="3" height="21" fill="#089981"/>
</g>
</g>
<rect x="11" y="402" width="1259" height="1" fill="#2c2c2c"/>
<g clip-path="url(#cd)">
<line x1="11" y1="431.5" x2="1209" y2="431.5" stroke="#1b1b1b" stroke-width="1" shape-rendering="crispEdges"/>
<line x1="10" y1="431.5" x2="1209" y2="431.5" stroke="#555860" stroke-width="1" stroke-dasharray="5 6" shape-rendering="crispEdges"/>
<g shape-rendering="crispEdges">
<rect x="12" y="420" width="3" height="12" fill="#26a69a"/>
<rect x="17" y="420" width="3" height="12" fill="#26a69a"/>
<rect x="22" y="420" width="3" height="12" fill="#b2dfdb"/>
<rect x="27" y="419" width="3" height="13" fill="#26a69a"/>
<rect x="32" y="418" width="3" height="14" fill="#26a69a"/>
<rect x="37" y="415" width="3" height="17" fill="#26a69a"/>
<rect x="42" y="412" width="3" height="20" fill="#26a69a"/>
<rect x="47" y="411" width="3" height="21" fill="#26a69a"/>
<rect x="52" y="395" width="3" height="37" fill="#26a69a"/>
<rect x="57" y="395" width="3" height="37" fill="#26a69a"/>
<rect x="62" y="395" width="3" height="37" fill="#26a69a"/>
<rect x="67" y="395" width="3" height="37" fill="#b2dfdb"/>
<rect x="72" y="395" width="3" height="37" fill="#b2dfdb"/>
<rect x="77" y="395" width="3" height="37" fill="#b2dfdb"/>
<rect x="82" y="395" width="3" height="37" fill="#b2dfdb"/>
<rect x="87" y="421" width="3" height="11" fill="#b2dfdb"/>
<rect x="92" y="431" width="3" height="3" fill="#ff5252"/>
<rect x="97" y="431" width="3" height="15" fill="#ff5252"/>
<rect x="102" y="431" width="3" height="21" fill="#ff5252"/>
<rect x="107" y="431" width="3" height="23" fill="#ff5252"/>
<rect x="112" y="431" width="3" height="21" fill="#ffcdd2"/>
<rect x="117" y="431" width="3" height="15" fill="#ffcdd2"/>
<rect x="122" y="431" width="3" height="13" fill="#ffcdd2"/>
<rect x="127" y="431" width="3" height="12" fill="#ffcdd2"/>
<rect x="132" y="431" width="3" height="11" fill="#ffcdd2"/>
<rect x="137" y="431" width="3" height="8" fill="#ffcdd2"/>
<rect x="142" y="431" width="3" height="8" fill="#ffcdd2"/>
<rect x="147" y="431" width="3" height="5" fill="#ffcdd2"/>
<rect x="152" y="431" width="3" height="3" fill="#ffcdd2"/>
<rect x="157" y="431" width="3" height="2" fill="#ffcdd2"/>
<rect x="162" y="431" width="3" height="1" fill="#ffcdd2"/>
<rect x="167" y="426" width="3" height="6" fill="#26a69a"/>
<rect x="172" y="423" width="3" height="9" fill="#26a69a"/>
<rect x="177" y="424" width="3" height="8" fill="#b2dfdb"/>
<rect x="182" y="424" width="3" height="8" fill="#b2dfdb"/>
<rect x="187" y="430" width="3" height="2" fill="#b2dfdb"/>
<rect x="192" y="431" width="3" height="3" fill="#ff5252"/>
<rect x="197" y="431" width="3" height="4" fill="#ff5252"/>
<rect x="202" y="431" width="3" height="6" fill="#ff5252"/>
<rect x="207" y="431" width="3" height="8" fill="#ff5252"/>
<rect x="212" y="431" width="3" height="13" fill="#ff5252"/>
<rect x="217" y="431" width="3" height="18" fill="#ff5252"/>
<rect x="222" y="431" width="3" height="20" fill="#ff5252"/>
<rect x="227" y="431" width="3" height="22" fill="#ff5252"/>
<rect x="232" y="431" width="3" height="20" fill="#ffcdd2"/>
<rect x="237" y="431" width="3" height="18" fill="#ffcdd2"/>
<rect x="242" y="431" width="3" height="17" fill="#ffcdd2"/>
<rect x="247" y="431" width="3" height="16" fill="#ffcdd2"/>
<rect x="252" y="431" width="3" height="14" fill="#ffcdd2"/>
<rect x="257" y="431" width="3" height="15" fill="#ff5252"/>
<rect x="262" y="431" width="3" height="18" fill="#ff5252"/>
<rect x="267" y="431" width="3" height="20" fill="#ff5252"/>
<rect x="272" y="431" width="3" height="21" fill="#ff5252"/>
<rect x="277" y="431" width="3" height="19" fill="#ffcdd2"/>
<rect x="282" y="431" width="3" height="16" fill="#ffcdd2"/>
<rect x="287" y="431" width="3" height="11" fill="#ffcdd2"/>
<rect x="292" y="431" width="3" height="12" fill="#ff5252"/>
<rect x="297" y="431" width="3" height="13" fill="#ff5252"/>
<rect x="302" y="431" width="3" height="15" fill="#ff5252"/>
<rect x="307" y="431" width="3" height="14" fill="#ffcdd2"/>
<rect x="312" y="431" width="3" height="10" fill="#ffcdd2"/>
<rect x="317" y="431" width="3" height="4" fill="#ffcdd2"/>
<rect x="322" y="430" width="3" height="2" fill="#26a69a"/>
<rect x="327" y="424" width="3" height="8" fill="#26a69a"/>
<rect x="331" y="422" width="3" height="10" fill="#26a69a"/>
<rect x="336" y="420" width="3" height="12" fill="#26a69a"/>
<rect x="341" y="419" width="3" height="13" fill="#26a69a"/>
<rect x="346" y="417" width="3" height="15" fill="#26a69a"/>
<rect x="351" y="416" width="3" height="16" fill="#26a69a"/>
<rect x="356" y="415" width="3" height="17" fill="#26a69a"/>
<rect x="361" y="414" width="3" height="18" fill="#26a69a"/>
<rect x="366" y="415" width="3" height="17" fill="#b2dfdb"/>
<rect x="371" y="416" width="3" height="16" fill="#b2dfdb"/>
<rect x="376" y="415" width="3" height="17" fill="#26a69a"/>
<rect x="381" y="414" width="3" height="18" fill="#26a69a"/>
<rect x="386" y="417" width="3" height="15" fill="#b2dfdb"/>
<rect x="391" y="419" width="3" height="13" fill="#b2dfdb"/>
<rect x="396" y="419" width="3" height="13" fill="#26a69a"/>
<rect x="401" y="419" width="3" height="13" fill="#b2dfdb"/>
<rect x="406" y="419" width="3" height="13" fill="#26a69a"/>
<rect x="411" y="417" width="3" height="15" fill="#26a69a"/>
<rect x="416" y="417" width="3" height="15" fill="#26a69a"/>
<rect x="421" y="418" width="3" height="14" fill="#b2dfdb"/>
<rect x="426" y="416" width="3" height="16" fill="#26a69a"/>
<rect x="431" y="416" width="3" height="16" fill="#b2dfdb"/>
<rect x="436" y="417" width="3" height="15" fill="#b2dfdb"/>
<rect x="441" y="418" width="3" height="14" fill="#b2dfdb"/>
<rect x="446" y="421" width="3" height="11" fill="#b2dfdb"/>
<rect x="451" y="424" width="3" height="8" fill="#b2dfdb"/>
<rect x="456" y="426" width="3" height="6" fill="#b2dfdb"/>
<rect x="461" y="429" width="3" height="3" fill="#b2dfdb"/>
<rect x="466" y="431" width="3" height="4" fill="#ff5252"/>
<rect x="471" y="431" width="3" height="8" fill="#ff5252"/>
<rect x="476" y="431" width="3" height="10" fill="#ff5252"/>
<rect x="481" y="431" width="3" height="11" fill="#ff5252"/>
<rect x="486" y="431" width="3" height="9" fill="#ffcdd2"/>
<rect x="491" y="431" width="3" height="8" fill="#ffcdd2"/>
<rect x="496" y="431" width="3" height="7" fill="#ffcdd2"/>
<rect x="501" y="431" width="3" height="6" fill="#ffcdd2"/>
<rect x="506" y="431" width="3" height="4" fill="#ffcdd2"/>
<rect x="511" y="431" width="3" height="4" fill="#ffcdd2"/>
<rect x="516" y="431" width="3" height="7" fill="#ff5252"/>
<rect x="521" y="431" width="3" height="8" fill="#ff5252"/>
<rect x="526" y="431" width="3" height="9" fill="#ff5252"/>
<rect x="531" y="431" width="3" height="11" fill="#ff5252"/>
<rect x="536" y="431" width="3" height="10" fill="#ffcdd2"/>
<rect x="541" y="431" width="3" height="9" fill="#ffcdd2"/>
<rect x="546" y="431" width="3" height="8" fill="#ffcdd2"/>
<rect x="551" y="431" width="3" height="5" fill="#ffcdd2"/>
<rect x="556" y="431" width="3" height="3" fill="#ffcdd2"/>
<rect x="561" y="420" width="3" height="12" fill="#26a69a"/>
<rect x="566" y="416" width="3" height="16" fill="#26a69a"/>
<rect x="571" y="412" width="3" height="20" fill="#26a69a"/>
<rect x="576" y="413" width="3" height="19" fill="#b2dfdb"/>
<rect x="581" y="416" width="3" height="16" fill="#b2dfdb"/>
<rect x="586" y="417" width="3" height="15" fill="#b2dfdb"/>
<rect x="591" y="421" width="3" height="11" fill="#b2dfdb"/>
<rect x="596" y="425" width="3" height="7" fill="#b2dfdb"/>
<rect x="601" y="427" width="3" height="5" fill="#b2dfdb"/>
<rect x="606" y="430" width="3" height="2" fill="#b2dfdb"/>
<rect x="611" y="431" width="3" height="3" fill="#ff5252"/>
<rect x="616" y="431" width="3" height="5" fill="#ff5252"/>
<rect x="621" y="431" width="3" height="8" fill="#ff5252"/>
<rect x="626" y="431" width="3" height="8" fill="#ffcdd2"/>
<rect x="631" y="431" width="3" height="8" fill="#ff5252"/>
<rect x="636" y="431" width="3" height="8" fill="#ffcdd2"/>
<rect x="641" y="431" width="3" height="7" fill="#ffcdd2"/>
<rect x="646" y="431" width="3" height="7" fill="#ffcdd2"/>
<rect x="651" y="431" width="3" height="7" fill="#ff5252"/>
<rect x="656" y="431" width="3" height="7" fill="#ffcdd2"/>
<rect x="661" y="431" width="3" height="7" fill="#ff5252"/>
<rect x="666" y="431" width="3" height="6" fill="#ffcdd2"/>
<rect x="671" y="431" width="3" height="5" fill="#ffcdd2"/>
<rect x="676" y="431" width="3" height="3" fill="#ffcdd2"/>
<rect x="681" y="431" width="3" height="2" fill="#ffcdd2"/>
<rect x="686" y="431" width="3" height="2" fill="#ffcdd2"/>
<rect x="691" y="430" width="3" height="2" fill="#26a69a"/>
<rect x="696" y="429" width="3" height="3" fill="#26a69a"/>
<rect x="701" y="428" width="3" height="4" fill="#26a69a"/>
<rect x="706" y="427" width="3" height="5" fill="#26a69a"/>
<rect x="711" y="426" width="3" height="6" fill="#26a69a"/>
<rect x="716" y="426" width="3" height="6" fill="#b2dfdb"/>
<rect x="721" y="427" width="3" height="5" fill="#b2dfdb"/>
<rect x="726" y="430" width="3" height="2" fill="#b2dfdb"/>
<rect x="731" y="431" width="3" height="1" fill="#ff5252"/>
<rect x="736" y="431" width="3" height="1" fill="#ffcdd2"/>
<rect x="741" y="431" width="3" height="1" fill="#ff5252"/>
<rect x="746" y="430" width="3" height="2" fill="#26a69a"/>
<rect x="751" y="431" width="3" height="1" fill="#ff5252"/>
<rect x="756" y="431" width="3" height="1" fill="#ff5252"/>
<rect x="761" y="430" width="3" height="2" fill="#26a69a"/>
<rect x="766" y="430" width="3" height="2" fill="#26a69a"/>
<rect x="771" y="431" width="3" height="3" fill="#ff5252"/>
<rect x="776" y="431" width="3" height="6" fill="#ff5252"/>
<rect x="781" y="431" width="3" height="9" fill="#ff5252"/>
<rect x="786" y="431" width="3" height="9" fill="#ff5252"/>
<rect x="791" y="431" width="3" height="9" fill="#ff5252"/>
<rect x="796" y="431" width="3" height="10" fill="#ff5252"/>
<rect x="801" y="431" width="3" height="10" fill="#ff5252"/>
<rect x="806" y="431" width="3" height="9" fill="#ffcdd2"/>
<rect x="811" y="431" width="3" height="8" fill="#ffcdd2"/>
<rect x="816" y="431" width="3" height="9" fill="#ff5252"/>
<rect x="821" y="431" width="3" height="13" fill="#ff5252"/>
<rect x="826" y="431" width="3" height="14" fill="#ff5252"/>
<rect x="831" y="431" width="3" height="16" fill="#ff5252"/>
<rect x="836" y="431" width="3" height="16" fill="#ff5252"/>
<rect x="841" y="431" width="3" height="14" fill="#ffcdd2"/>
<rect x="846" y="431" width="3" height="14" fill="#ffcdd2"/>
<rect x="851" y="431" width="3" height="15" fill="#ff5252"/>
<rect x="856" y="431" width="3" height="16" fill="#ff5252"/>
<rect x="861" y="431" width="3" height="14" fill="#ffcdd2"/>
<rect x="866" y="431" width="3" height="11" fill="#ffcdd2"/>
<rect x="871" y="431" width="3" height="8" fill="#ffcdd2"/>
<rect x="876" y="431" width="3" height="4" fill="#ffcdd2"/>
<rect x="881" y="430" width="3" height="2" fill="#26a69a"/>
<rect x="886" y="428" width="3" height="4" fill="#26a69a"/>
<rect x="891" y="428" width="3" height="4" fill="#26a69a"/>
<rect x="896" y="427" width="3" height="5" fill="#26a69a"/>
<rect x="901" y="427" width="3" height="5" fill="#26a69a"/>
<rect x="906" y="429" width="3" height="3" fill="#b2dfdb"/>
<rect x="911" y="431" width="3" height="1" fill="#ff5252"/>
<rect x="915" y="430" width="3" height="2" fill="#26a69a"/>
<rect x="920" y="429" width="3" height="3" fill="#26a69a"/>
<rect x="925" y="428" width="3" height="4" fill="#26a69a"/>
<rect x="930" y="428" width="3" height="4" fill="#26a69a"/>
<rect x="935" y="427" width="3" height="5" fill="#26a69a"/>
<rect x="940" y="427" width="3" height="5" fill="#26a69a"/>
<rect x="945" y="424" width="3" height="8" fill="#26a69a"/>
<rect x="950" y="422" width="3" height="10" fill="#26a69a"/>
<rect x="955" y="421" width="3" height="11" fill="#26a69a"/>
<rect x="960" y="421" width="3" height="11" fill="#26a69a"/>
<rect x="965" y="423" width="3" height="9" fill="#b2dfdb"/>
<rect x="970" y="424" width="3" height="8" fill="#b2dfdb"/>
<rect x="975" y="424" width="3" height="8" fill="#b2dfdb"/>
<rect x="980" y="422" width="3" height="10" fill="#26a69a"/>
<rect x="985" y="422" width="3" height="10" fill="#26a69a"/>
<rect x="990" y="428" width="3" height="4" fill="#b2dfdb"/>
<rect x="995" y="430" width="3" height="2" fill="#b2dfdb"/>
<rect x="1000" y="431" width="3" height="1" fill="#ff5252"/>
<rect x="1005" y="431" width="3" height="3" fill="#ff5252"/>
<rect x="1010" y="431" width="3" height="5" fill="#ff5252"/>
<rect x="1015" y="431" width="3" height="4" fill="#ffcdd2"/>
<rect x="1020" y="431" width="3" height="2" fill="#ffcdd2"/>
<rect x="1025" y="431" width="3" height="1" fill="#ffcdd2"/>
<rect x="1030" y="429" width="3" height="3" fill="#26a69a"/>
<rect x="1035" y="429" width="3" height="3" fill="#b2dfdb"/>
<rect x="1040" y="426" width="3" height="6" fill="#26a69a"/>
<rect x="1045" y="424" width="3" height="8" fill="#26a69a"/>
<rect x="1050" y="422" width="3" height="10" fill="#26a69a"/>
<rect x="1055" y="422" width="3" height="10" fill="#b2dfdb"/>
<rect x="1060" y="422" width="3" height="10" fill="#26a69a"/>
<rect x="1065" y="421" width="3" height="11" fill="#26a69a"/>
<rect x="1070" y="422" width="3" height="10" fill="#b2dfdb"/>
<rect x="1075" y="424" width="3" height="8" fill="#b2dfdb"/>
<rect x="1080" y="424" width="3" height="8" fill="#b2dfdb"/>
<rect x="1085" y="425" width="3" height="7" fill="#b2dfdb"/>
<rect x="1090" y="427" width="3" height="5" fill="#b2dfdb"/>
<rect x="1095" y="430" width="3" height="2" fill="#b2dfdb"/>
<rect x="1100" y="431" width="3" height="1" fill="#ff5252"/>
<rect x="1105" y="431" width="3" height="6" fill="#ff5252"/>
<rect x="1110" y="431" width="3" height="12" fill="#ff5252"/>
<rect x="1115" y="431" width="3" height="20" fill="#ff5252"/>
<rect x="1120" y="431" width="3" height="30" fill="#ff5252"/>
<rect x="1125" y="431" width="3" height="30" fill="#ff5252"/>
<rect x="1130" y="431" width="3" height="24" fill="#ffcdd2"/>
<rect x="1135" y="431" width="3" height="18" fill="#ffcdd2"/>
<rect x="1140" y="431" width="3" height="13" fill="#ffcdd2"/>
<rect x="1145" y="431" width="3" height="8" fill="#ffcdd2"/>
<rect x="1150" y="431" width="3" height="6" fill="#ffcdd2"/>
<rect x="1155" y="431" width="3" height="1" fill="#ffcdd2"/>
</g>
<polyline points="10.0,477.6 19.0,470.9 28.0,464.6 36.9,455.7 45.9,442.2 48.6,438.6 51.3,421.5 54.9,402.7 58.0,380.0 101.0,380.0 104.3,402.7 107.8,406.8 112.3,409.3 117.7,408.1 126.7,410.4 135.7,412.2 144.6,411.7 153.6,409.9 162.6,407.2 168.0,402.7 178.0,396.0 189.5,402.7 198.5,406.3 207.5,411.7 212.9,418.0 218.3,429.6 225.4,441.3 232.6,447.6 237.2,450.3 246.2,455.7 252.4,457.1 258.7,462.8 265.9,472.7 273.1,481.7 279.4,484.7 283.9,484.4 288.3,482.9 292.8,486.2 298.2,491.2 303.6,496.6 308.1,498.4 312.6,497.0 318.0,491.9 323.4,487.1 327.8,479.9 334.1,473.6 341.3,467.3 348.5,460.7 355.7,454.8 362.9,447.6 368.2,444.0 373.6,440.9 382.6,432.3 391.6,429.6 398.8,426.0 405.9,421.5 413.1,416.2 418.5,412.6 423.0,410.4 427.5,405.4 432.0,402.7 448.0,394.0 464.0,402.7 465.3,404.0 473.3,412.6 482.3,420.6 487.7,420.1 494.9,421.5 502.1,422.4 507.5,421.5 511.9,422.4 518.2,426.9 525.4,431.4 530.8,435.9 536.2,438.6 543.4,439.1 552.3,437.7 557.7,435.0 561.3,423.3 566.7,414.4 572.1,404.5 573.9,402.7 580.0,385.0 596.0,385.0 601.7,402.7 608.0,405.7 615.2,410.8 622.4,416.2 629.5,419.4 636.7,421.9 643.9,423.3 651.1,425.5 658.3,427.8 665.4,429.1 672.6,429.3 679.0,427.8 689.7,426.0 698.7,423.0 705.9,420.1 713.1,417.6 720.3,417.2 727.5,419.4 736.4,421.5 745.4,421.9 756.2,422.3 766.9,421.5 772.3,425.1 779.5,430.5 786.7,435.0 795.7,439.9 802.9,443.1 810.0,444.9 817.2,447.6 822.6,453.9 829.8,461.0 837.0,468.2 845.9,471.8 853.1,478.1 858.5,482.6 863.0,484.4 871.1,483.5 878.3,478.1 885.4,473.6 895.4,470.9 901.7,469.1 908.0,471.5 915.1,472.7 922.3,470.0 931.3,468.2 942.1,464.6 951.0,456.6 961.8,450.6 969.0,450.6 977.1,448.8 981.6,444.9 987.0,441.7 992.3,447.0 1001.3,449.4 1006.7,452.1 1012.1,455.7 1019.3,454.8 1026.4,453.0 1031.8,450.6 1037.2,450.3 1044.4,444.0 1051.6,438.6 1058.8,435.0 1066.8,429.6 1076.7,429.1 1083.9,427.3 1089.3,427.8 1096.5,430.9 1101.9,433.2 1107.2,439.5 1112.6,450.0 1116.5,460.0 1120.5,471.3 1124.3,480.9 1127.8,485.4 1133.9,483.8 1141.7,480.5 1147.4,478.0 1152.3,477.1 1157.5,472.8" fill="none" stroke="#2a2eff" stroke-width="1.1" stroke-linejoin="round"/>
<polyline points="10.0,487.1 20.8,480.8 31.5,473.6 40.5,466.4 47.7,459.2 53.1,452.1 58.5,440.4 63.9,421.5 69.2,402.7 74.0,385.0 128.0,385.0 133.9,402.7 142.9,406.3 153.6,408.1 162.6,408.1 171.6,405.4 178.8,402.7 188.0,399.0 196.7,402.7 207.5,405.7 216.5,412.6 225.4,420.6 230.0,425.1 239.0,434.1 248.0,441.3 256.9,447.6 265.9,455.7 274.9,464.6 282.1,470.4 291.0,475.0 300.0,480.8 307.2,485.3 312.6,487.6 319.8,488.3 326.9,487.1 334.1,484.4 343.1,479.9 352.1,473.6 361.1,466.4 371.8,457.5 382.6,448.5 391.6,443.1 400.6,437.7 409.5,432.3 418.5,426.0 427.5,419.7 436.5,412.6 445.4,407.2 454.4,404.2 463.5,403.2 469.7,405.0 476.9,408.6 485.9,412.6 496.7,416.2 505.7,418.0 512.8,419.4 521.8,422.4 530.8,426.9 539.8,430.5 546.9,432.7 554.1,433.8 559.5,432.7 564.9,429.6 572.1,423.3 579.3,417.1 586.4,411.7 593.6,408.1 600.8,406.8 608.0,406.5 615.2,407.5 622.4,409.9 629.5,412.6 638.5,415.8 647.5,418.9 656.5,421.5 665.4,424.2 674.4,426.0 679.0,426.3 688.0,426.6 696.9,426.0 705.9,424.2 714.9,421.5 723.9,420.3 734.6,420.6 745.4,421.0 756.2,421.2 766.9,421.2 774.1,422.4 781.3,426.0 792.1,430.5 802.9,435.9 813.6,440.4 824.4,445.8 835.2,453.9 845.9,460.1 856.7,467.3 865.7,472.7 872.9,475.4 878.3,476.3 885.4,475.4 894.4,474.0 900.8,473.2 915.1,472.7 929.5,470.9 943.9,467.9 954.6,462.8 965.4,458.3 976.2,454.8 986.9,450.6 997.7,449.9 1008.5,451.7 1019.3,453.0 1030.0,452.6 1040.8,451.2 1051.6,446.7 1062.4,441.7 1073.1,436.8 1083.9,433.2 1092.9,432.0 1101.9,432.0 1109.0,434.1 1114.4,439.5 1118.5,445.3 1126.2,454.9 1133.9,463.6 1141.7,468.4 1149.4,471.3 1157.5,472.4" fill="none" stroke="#f5ab00" stroke-width="1.1" stroke-linejoin="round"/>
</g>
<text class="ax" x="1218" y="84.8" textLength="36.3" lengthAdjust="spacingAndGlyphs">2.4000</text>
<text class="ax" x="1218" y="142.3" textLength="36.3" lengthAdjust="spacingAndGlyphs">2.2000</text>
<text class="ax" x="1218" y="258.0" textLength="36.3" lengthAdjust="spacingAndGlyphs">1.8000</text>
<text class="ax" x="1218" y="315.6" textLength="36.3" lengthAdjust="spacingAndGlyphs">1.6000</text>
<text class="ax" x="1218" y="374.3" textLength="36.3" lengthAdjust="spacingAndGlyphs">1.4000</text>
<text class="ax" x="1218.5" y="470.3" textLength="42" lengthAdjust="spacingAndGlyphs">−0.0500</text>
<text class="ax" x="1218.5" y="505.6" textLength="42" lengthAdjust="spacingAndGlyphs">−0.1000</text>
<path d="M1210 112H1257a2 2 0 0 1 2 2V127a2 2 0 0 1 -2 2H1210z" fill="#f23645"/>
<text x="1218" y="124.8" fill="#ffffff" class="bx" stroke="#ffffff" textLength="36.3" lengthAdjust="spacingAndGlyphs">2.2607</text>
<path d="M1210 172H1257a2 2 0 0 1 2 2V204a2 2 0 0 1 -2 2H1210z" fill="#2962ff"/>
<text x="1218" y="185" fill="#ffffff" class="bx" stroke="#ffffff" textLength="36.3" lengthAdjust="spacingAndGlyphs">2.0390</text>
<text x="1218" y="201.6" fill="#ffffff" class="bx" stroke="#ffffff" textLength="36.3" lengthAdjust="spacingAndGlyphs">1.9811</text>
<path d="M1210 206H1257a2 2 0 0 1 2 2V234.5a2 2 0 0 1 -2 2H1210z" fill="#089981"/>
<text x="1218" y="218.8" fill="#ffffff" class="bx" stroke="#ffffff" textLength="36.3" lengthAdjust="spacingAndGlyphs">1.9358</text>
<text x="1218" y="233" fill="#e6f5f2" stroke="#e6f5f2" stroke-width=".25" textLength="28" lengthAdjust="spacingAndGlyphs">11:57</text>
<path d="M1210 274H1257a2 2 0 0 1 2 2V289a2 2 0 0 1 -2 2H1210z" fill="#089981"/>
<text x="1218" y="286.8" fill="#ffffff" class="bx" stroke="#ffffff" textLength="36.3" lengthAdjust="spacingAndGlyphs">1.7015</text>
<path d="M1210 423H1264a2 2 0 0 1 2 2V438a2 2 0 0 1 -2 2H1210z" fill="#fccbcd"/>
<text x="1218.5" y="435.8" fill="#0c0c0c" stroke="#0c0c0c" stroke-width=".35" textLength="42" lengthAdjust="spacingAndGlyphs">−0.0005</text>
<path d="M1210 464H1264a2 2 0 0 1 2 2V479a2 2 0 0 1 -2 2H1210z" fill="#ffb300"/>
<text x="1218.5" y="476.8" fill="#0c0c0c" stroke="#0c0c0c" stroke-width=".35" textLength="42" lengthAdjust="spacingAndGlyphs">−0.0589</text>
<path d="M1210 481H1264a2 2 0 0 1 2 2V496a2 2 0 0 1 -2 2H1210z" fill="#2a2eff"/>
<text x="1218.5" y="493.8" fill="#ffffff" class="bx" stroke="#ffffff" textLength="42" lengthAdjust="spacingAndGlyphs">−0.0593</text>
<text class="ax" x="68.5" y="526" text-anchor="middle">3</text>
<text class="ax" x="128.5" y="526" text-anchor="middle">5</text>
<text class="ax" x="188.5" y="526" text-anchor="middle">7</text>
<text class="ax" x="248.5" y="526" text-anchor="middle">9</text>
<text class="ax" x="308.5" y="526" text-anchor="middle">11</text>
<text class="ax" x="368.5" y="526" text-anchor="middle">13</text>
<text class="ax" x="428.5" y="526" text-anchor="middle">15</text>
<text class="ax" x="488.5" y="526" text-anchor="middle">17</text>
<text class="ax" x="548.5" y="526" text-anchor="middle">19</text>
<text class="ax" x="608.5" y="526" text-anchor="middle">21</text>
<text class="ax" x="667.5" y="526" text-anchor="middle">23</text>
<text class="ax" x="727.5" y="526" text-anchor="middle">25</text>
<text class="ax" x="787.5" y="526" text-anchor="middle">27</text>
<text class="ax" x="847.5" y="526" text-anchor="middle">29</text>
<text class="tb" x="937.5" y="526" text-anchor="middle">Apr</text>
<text class="ax" x="997.5" y="526" text-anchor="middle">3</text>
<text class="ax" x="1057.5" y="526" text-anchor="middle">5</text>
<text class="ax" x="1117.5" y="526" text-anchor="middle">7</text>
<text class="ax" x="1177.5" y="526" text-anchor="middle">9</text>
<clipPath id="ct"><rect x="10" y="508" width="1198" height="27"/></clipPath>
<g clip-path="url(#ct)"><text class="tb" x="8" y="526" text-anchor="middle">Mar</text></g>
<text class="lg" x="17.5" y="46" fill="#c8c8c8" stroke="#c8c8c8" textLength="21" lengthAdjust="spacingAndGlyphs">XRP</text>
<text class="lg" x="43.6" y="46" fill="#c8c8c8" stroke="#c8c8c8">/</text>
<text class="lg" x="51.5" y="46" fill="#c8c8c8" stroke="#c8c8c8" textLength="48.5" lengthAdjust="spacingAndGlyphs">TetherUS</text>
<text x="105.6" y="46.6" fill="#c8c8c8" text-anchor="middle" font-weight="bold" style="font-size:15px">·</text>
<text class="lg" x="111.3" y="46" fill="#c8c8c8" stroke="#c8c8c8" textLength="13.6" lengthAdjust="spacingAndGlyphs">4h</text>
<text x="131" y="46.6" fill="#c8c8c8" text-anchor="middle" font-weight="bold" style="font-size:15px">·</text>
<text class="lg" x="135.6" y="46" fill="#c8c8c8" stroke="#c8c8c8" textLength="45.8" lengthAdjust="spacingAndGlyphs">BINANCE</text>
<text class="lg" x="190" y="46" fill="#c8c8c8" stroke="#c8c8c8" textLength="8" lengthAdjust="spacingAndGlyphs">O</text>
<text class="lg" x="198" y="46" fill="#089981" stroke="#089981" textLength="35" lengthAdjust="spacingAndGlyphs">1.8679</text>
<text class="lg" x="241" y="46" fill="#c8c8c8" stroke="#c8c8c8" textLength="8" lengthAdjust="spacingAndGlyphs">H</text>
<text class="lg" x="249" y="46" fill="#089981" stroke="#089981" textLength="35" lengthAdjust="spacingAndGlyphs">1.9425</text>
<text class="lg" x="292" y="46" fill="#c8c8c8" stroke="#c8c8c8" textLength="6" lengthAdjust="spacingAndGlyphs">L</text>
<text class="lg" x="298" y="46" fill="#089981" stroke="#089981" textLength="35" lengthAdjust="spacingAndGlyphs">1.8512</text>
<text class="lg" x="341.5" y="46" fill="#c8c8c8" stroke="#c8c8c8" textLength="8" lengthAdjust="spacingAndGlyphs">C</text>
<text class="lg" x="349.5" y="46" fill="#089981" stroke="#089981" textLength="35" lengthAdjust="spacingAndGlyphs">1.9358</text>
<text class="lg" x="391.5" y="46" fill="#089981" stroke="#089981" textLength="91" lengthAdjust="spacingAndGlyphs">+0.0678 (+3.63%)</text>
<text class="lg" x="17.7" y="62.5" fill="#c8c8c8" stroke="#c8c8c8" textLength="118" lengthAdjust="spacingAndGlyphs">BB (20, SMA, close, 2)</text>
<text class="lg" x="144.5" y="62.5" fill="#2962ff" stroke="#2962ff" textLength="33.5" lengthAdjust="spacingAndGlyphs">1.9811</text>
<text class="lg" x="185.5" y="62.5" fill="#f23645" stroke="#f23645" textLength="35.5" lengthAdjust="spacingAndGlyphs">2.2607</text>
<text class="lg" x="229.5" y="62.5" fill="#089981" stroke="#089981" textLength="34.5" lengthAdjust="spacingAndGlyphs">1.7015</text>
<text class="lg" x="18" y="422" fill="#c8c8c8" stroke="#c8c8c8" textLength="110.5" lengthAdjust="spacingAndGlyphs">MACD (12, 26, close)</text>
<text class="lg" x="136.5" y="422" fill="#fccbcd" stroke="#fccbcd" textLength="42.5" lengthAdjust="spacingAndGlyphs">−0.0005</text>
<text class="lg" x="186.5" y="422" fill="#2a2eff" stroke="#2a2eff" textLength="41" lengthAdjust="spacingAndGlyphs">−0.0593</text>
<text class="lg" x="235" y="422" fill="#f5ab00" stroke="#f5ab00" textLength="41" lengthAdjust="spacingAndGlyphs">−0.0589</text>
<g>
<circle cx="1157.6" cy="389.5" r="10" fill="none" stroke="#ab47bc" stroke-width="1.6"/>
<polygon points="1160.2,384.2 1153.1,389.6 1156.8,390 1153.9,395 1161.8,389.2 1158.1,388.9" fill="#ab47bc"/>
<circle cx="1164.4" cy="382.4" r="4.4" fill="#0f0f0f"/>
<circle cx="1164.4" cy="382.4" r="2.7" fill="#f23645"/>
</g>
<text x="10" y="18.8" fill="#e4e4e4" stroke="#e4e4e4" stroke-width=".5" style="font-size:12.3px" textLength="362" lengthAdjust="spacingAndGlyphs">phemolly24 published on TradingView.com, Apr 08, 2025 11:48 UTC</text>
<g transform="translate(10.2,546.2) scale(0.525)" fill="#d6d6d6"><path d="M14 22H7V11H0V4h14v18z"/><circle cx="20" cy="8" r="4"/><path d="M28 22h-8l7.5-18h8L28 22z"/></g>
<text x="33.5" y="557.8" fill="#d6d6d6" stroke="#d6d6d6" stroke-width=".4" style="font-size:13px" textLength="70" lengthAdjust="spacingAndGlyphs">TradingView</text>
</svg>
</body></html>
